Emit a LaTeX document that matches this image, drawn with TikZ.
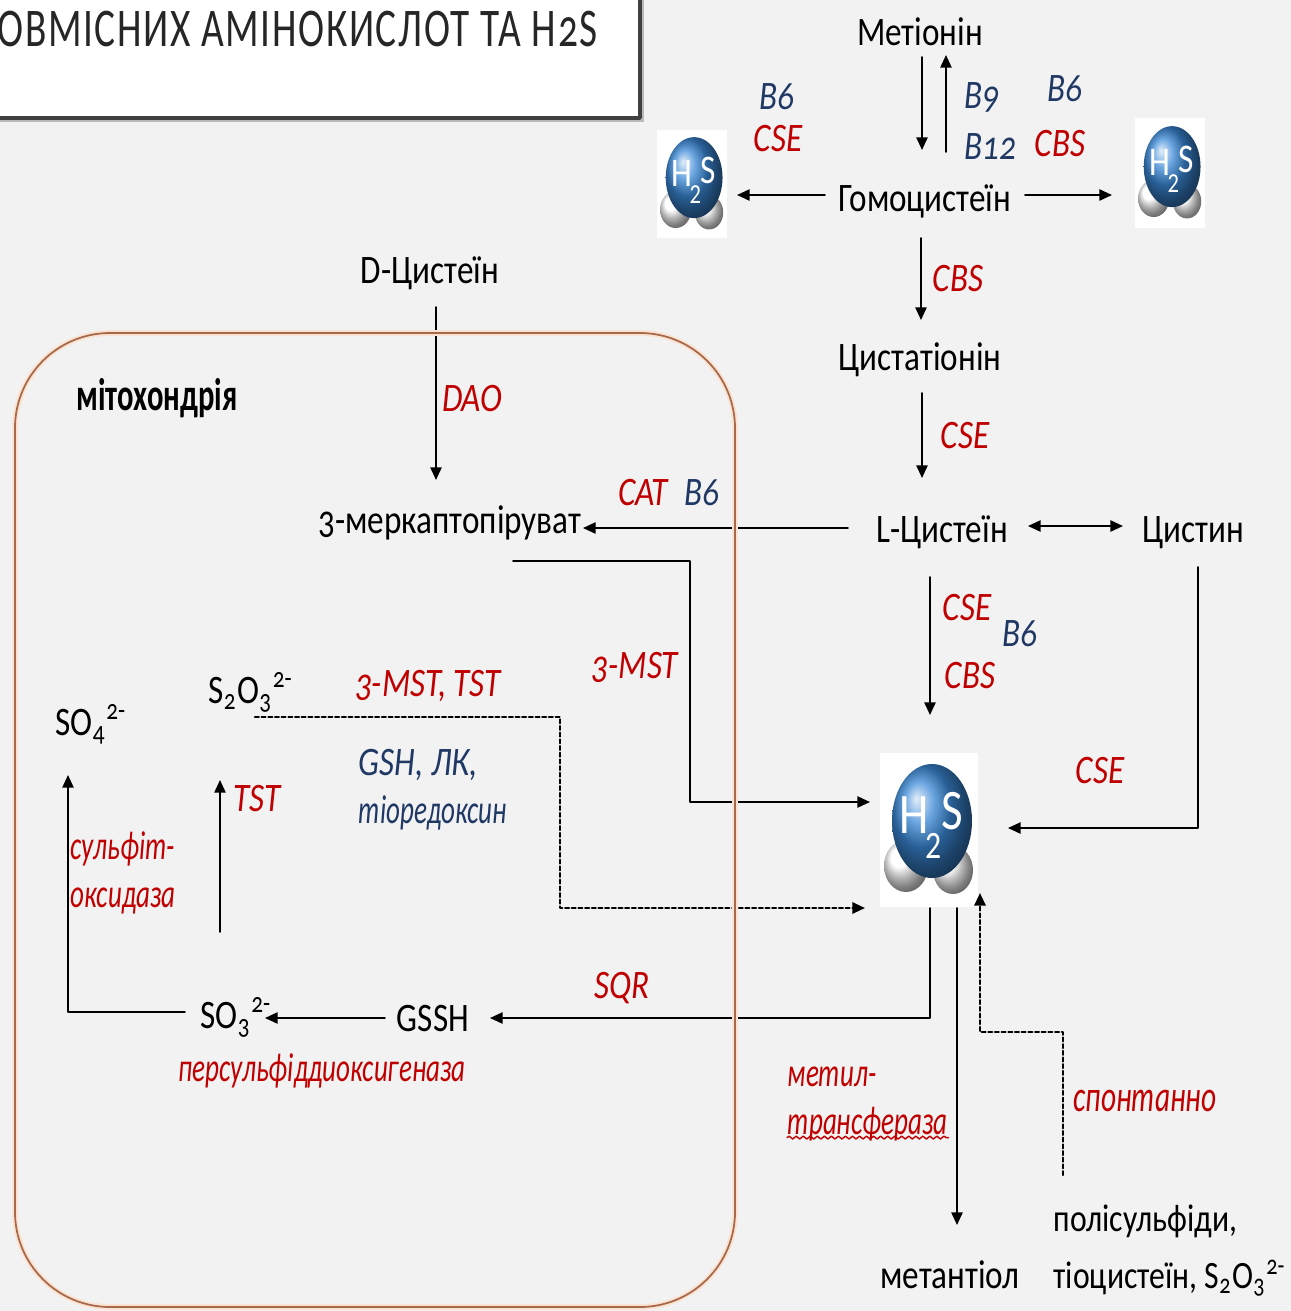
\documentclass[tikz,border=0pt]{standalone}
\usepackage{fontspec}
\setmainfont{Carlito}[FakeStretch=0.82,Numbers=OldStyle]
\newfontfamily\narrowfont{Carlito}[FakeStretch=0.67,Numbers=OldStyle]
\newfontfamily\titlefont{Carlito}[FakeStretch=0.72,LetterSpace=3,Numbers=OldStyle]
\usetikzlibrary{arrows.meta,decorations.pathmorphing}

\definecolor{enzred}{HTML}{C00000}
\definecolor{vitblue}{HTML}{1F3864}
\definecolor{bg}{HTML}{F2F2F2}
\definecolor{mitoline}{HTML}{A8684A}
\definecolor{mitoglow}{HTML}{FBE3D3}
\definecolor{hsblue}{HTML}{3A88D6}
\definecolor{frame}{HTML}{404040}

% H2S molecule drawn into an (empty) named node
\newcommand{\hsmol}[2]{%
  \begin{scope}[shift={(#1.center)},scale=#2,transform shape]
    \shade[ball color=white] (-23,36) ellipse [x radius=22,y radius=26];
    \shade[ball color=white] (24,40) ellipse [x radius=20,y radius=24];
    \shade[ball color=hsblue] (3,-9) ellipse [x radius=40,y radius=57];
    \node[text=white,inner sep=0pt,anchor=base west,font=\fontsize{16.3}{18}\selectfont] (#1-txt) at (-30,3)
      {H\kern-0.06em\raisebox{-0.25cm}{\fontsize{11}{12}\selectfont\addfontfeatures{Numbers=Lining}2}\raisebox{0.04cm}{S}};
  \end{scope}}

\begin{document}
\begin{tikzpicture}[line cap=round,line join=round,>={Triangle[length=3.6pt,width=3.2pt]},x=0.01cm,y=-0.01cm,
  txt/.style={inner sep=0pt,anchor=base,font=\fontsize{11.5}{13.5}\selectfont},
  enz/.style={txt,text=enzred,font=\fontsize{11.5}{13.5}\selectfont\itshape},
  enzc/.style={txt,text=enzred,font=\fontsize{11.5}{13.5}\narrowfont\itshape},
  vit/.style={txt,text=vitblue,font=\fontsize{11.5}{13.5}\selectfont\itshape},
  flow/.style={->,line width=0.5pt},
  dots/.style={flow,line width=0.65pt,dash pattern=on 1.1pt off 0.8pt},
  mol/.style={inner sep=0pt,fill=white}]
\useasboundingbox (0,0) rectangle (1291,1311);
\clip (0,0) rectangle (1291,1311);
\fill[bg] (0,0) rectangle (1291,1311);

% title frame
\fill[gray!55] (-20,-20) rectangle (644,122);
\draw[line width=1pt,draw=frame,fill=white] (-20,-20) rectangle (640,118);
\node[inner sep=0pt,anchor=base west,text=black!85,font=\titlefont\fontsize{15.5}{18}\selectfont] (title) at (-3,46)
  {ОВМІСНИХ АМІНОКИСЛОТ ТА H2S};

% metabolites
\node[txt] (Met) at (920,45) {Метіонін};
\node[txt] (Hcy) at (925,211) {Гомоцистеїн};
\node[txt] (Cth) at (920,370) {Цистатіонін};
\node[txt] (LCys) at (942,542) {L-Цистеїн};
\node[txt] (Cyss) at (1193,542) {Цистин};
\node[txt] (DCys) at (430,283) {D-Цистеїн};
\node[txt] (MP) at (450,533) {3-меркаптопіруват};
\node[txt,anchor=base west] (Thio) at (208,703) {S\textsubscript{2}O\textsubscript{3}\textsuperscript{2-}};
\node[txt,anchor=base west] (Sulfate) at (55,735) {SO\textsubscript{4}\textsuperscript{2-}};
\node[txt,anchor=base west] (Sulfite) at (200,1028) {SO\textsubscript{3}\textsuperscript{2-}};
\node[txt] (GSSH) at (433,1031) {GSSH};
\node[txt] (MeSH) at (950,1288) {метантіол};
\node[txt,anchor=base west,font=\fontsize{11}{13}\selectfont] (Poly) at (1053,1231) {полісульфіди,};
\node[txt,anchor=base west,font=\fontsize{11}{13}\selectfont] (Poly2) at (1053,1288) {тіоцистеїн, S\textsubscript{2}O\textsubscript{3}\textsuperscript{2-}};
\node[txt,font=\fontsize{13}{15}\narrowfont\bfseries] (mito) at (157,410) {мітохондрія};

% H2S
\node[mol,minimum width=0.70cm,minimum height=1.08cm] (Hl) at (692,184) {};
\node[mol,minimum width=0.70cm,minimum height=1.10cm] (Hr) at (1170,173) {};
\node[mol,minimum width=0.98cm,minimum height=1.53cm] (Hc) at (929,830) {};
\hsmol{Hl}{0.71}
\hsmol{Hr}{0.71}
\hsmol{Hc}{1}

% enzymes and cofactors
\node[vit] (B6a) at (777,109) {B6};
\node[enz] (CSEa) at (778,151) {CSE};
\node[vit,anchor=base west] (B9) at (964,108) {B9};
\node[vit,anchor=base west] (B12) at (964,159) {B12};
\node[vit] (B6b) at (1065,101) {B6};
\node[enz] (CBSa) at (1060,156) {CBS};
\node[enz] (CBSb) at (958,291) {CBS};
\node[enz] (CSEb) at (965,448) {CSE};
\node[enz] (CAT) at (643,505) {CAT};
\node[vit] (B6c) at (702,505) {B6};
\node[enz] (DAO) at (472,411) {DAO};
\node[enz] (CSEc) at (967,620) {CSE};
\node[enz] (CBSc) at (970,688) {CBS};
\node[vit] (B6d) at (1020,646) {B6};
\node[enz] (CSEd) at (1100,783) {CSE};
\node[enz] (MST) at (635,678) {3-MST};
\node[enz] (MSTTST) at (428,696) {3-MST, TST};
\node[vit,anchor=base west] (GSH) at (358,775) {GSH, ЛК,};
\node[vit,anchor=base west,font=\fontsize{11.5}{13.5}\narrowfont\itshape] (Trx) at (358,823) {тіоредоксин};
\node[enz] (TST) at (257,811) {TST};
\node[enzc,anchor=west,align=left] (SO) at (70,873) {сульфіт-\\оксидаза};
\node[enzc] (PDO) at (322,1081) {персульфіддиоксигеназа};
\node[enz] (SQR) at (622,998) {SQR};
\node[enzc,anchor=west,align=left] (MT) at (787,1104) {метил-\\трансфераза};
\node[enzc,font=\fontsize{12.5}{14}\narrowfont\itshape] (Spont) at (1145,1111) {спонтанно};
\draw[enzred,line width=0.4pt,decorate,decoration={snake,amplitude=0.4pt,segment length=2pt}]
  ([shift={(0,-4)}]MT.south west) -- ([shift={(0,-4)}]MT.south east);

% transsulfuration
\draw[flow] ([shift={(2,12)}]Met.base) -- ([shift={(-3,-61)}]Hcy.base);
\draw[flow] ([shift={(21,-59)}]Hcy.base) -- ([shift={(26,10)}]Met.base);
\draw[flow] ([shift={(-100,-16)}]Hcy.base) -- ([shift={(45,11)}]Hl.center);
\draw[flow] ([shift={(100,-16)}]Hcy.base) -- ([shift={(-58,22)}]Hr.center);
\draw[flow] ([shift={(-4,27)}]Hcy.base) -- ([shift={(1,-50)}]Cth.base);
\draw[flow] ([shift={(2,23)}]Cth.base) -- ([shift={(-20,-64)}]LCys.base);
\draw[flow,<->] ([shift={(86,-16)}]LCys.base) -- ([shift={(-70,-16)}]Cyss.base);
\draw[flow] ([shift={(-12,35)}]LCys.base) -- ([shift={(1,-115)}]Hc.center);
\draw[flow] ([shift={(5,25)}]Cyss.base) |- ([shift={(79,-2)}]Hc.center);

% 3-MST branch
\draw[flow] ([shift={(6,24)}]DCys.base) -- ([shift={(-14,-53)}]MP.base);
\draw[flow] ([shift={(-94,-14)}]LCys.base) -- ([shift={(133,-5)}]MP.base);
\draw[flow] ([shift={(63,28)}]MP.base) -| ([shift={(240,100)}]MP.base) |- ([shift={(-59,-28)}]Hc.center);
\draw[dots] ([shift={(47,14)}]Thio.base west) -| ([shift={(352,100)}]Thio.base west) |- ([shift={(-64,78)}]Hc.center);

% oxidation in mitochondria
\draw[flow] ([shift={(20,-96)}]Sulfite.base west) -- ([shift={(12,77)}]Thio.base west);
\draw[flow] ([shift={(-15,-16)}]Sulfite.base west) -| ([shift={(13,40)}]Sulfate.base west);
\draw[flow] ([shift={(-48,-13)}]GSSH.base) -- ([shift={(65,-10)}]Sulfite.base west);
\draw[flow] ([shift={(1,78)}]Hc.center) |- ([shift={(57,-13)}]GSSH.base);
\draw[flow] ([shift={(28,78)}]Hc.center) -- ([shift={(7,-63)}]MeSH.base);
\draw[dots] ([shift={(10,-56)}]Poly.base west) -- ([shift={(10,-199)}]Poly.base west) -| ([shift={(51,63)}]Hc.center);

% mitochondrion outline
\draw[line width=1.6pt,mitoglow,rounded corners=0.95cm] (15,333) rectangle (735,1307);
\draw[line width=0.5pt,mitoline,rounded corners=0.95cm] (15,333) rectangle (735,1307);

\end{tikzpicture}
\end{document}
